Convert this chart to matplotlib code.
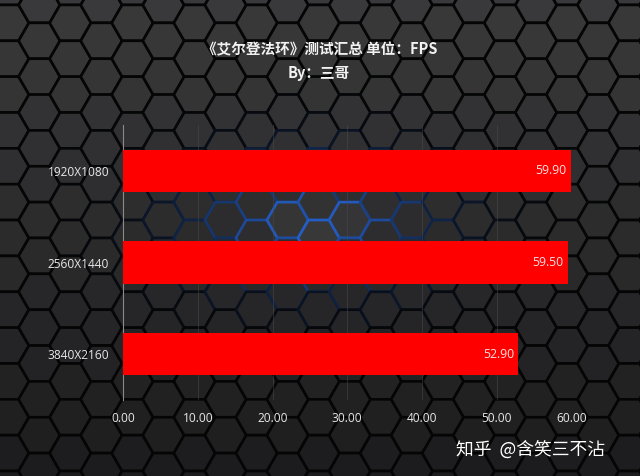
import numpy as np
import matplotlib
matplotlib.use("Agg")
import matplotlib.pyplot as plt
from matplotlib.collections import PolyCollection

categories = ["1920X1080", "2560X1440", "3840X2160"]
fps_values = [59.90, 59.50, 52.90]
x_ticks = [0, 10, 20, 30, 40, 50, 60]
x_tick_labels = ["0.00", "10.00", "20.00", "30.00", "40.00", "50.00", "60.00"]
title_text = "《艾尔登法环》测试汇总 单位：FPS"
subtitle_text = "By：三哥"
watermark_text = "知乎  @含笑三不沾"

W, H = 640, 476
fig = plt.figure(figsize=(6.4, 4.76), dpi=100)
fig.patch.set_facecolor("#2a2a2c")

# ---- decorative hexagon background ----
bg = fig.add_axes([0, 0, 1, 1])
bg.set_xlim(0, W)
bg.set_ylim(H, 0)
bg.axis("off")
R = 20.7
hs = 1.5 * R
vs = np.sqrt(3) * R
x0, y0 = 39.3, 40.8
angles = np.deg2rad(np.arange(0, 360, 60))
polys, faces, edges = [], [], []
blue = np.array([0.16, 0.42, 0.88])
for i in range(-2, 24):
    cx = x0 + i * hs
    for j in range(-2, 16):
        cy = y0 + j * vs - (vs / 2 if i % 2 else 0)
        pts = np.column_stack([cx + R * np.cos(angles), cy + R * np.sin(angles)])
        polys.append(pts)
        t = np.clip(cy / H, 0, 1)
        g = 0.225 - 0.115 * t
        d = np.hypot((cx - 320) / 120.0, (cy - 228) / 60.0)
        glow = 0.9 * np.exp(-d ** 2)
        face = np.array([g, g, g + 0.006]) + 0.06 * np.exp(-d ** 2 * 6)
        faces.append(np.clip(face, 0, 1))
        e = np.array([0.02, 0.02, 0.02]) * (1 - glow) + blue * glow
        edges.append(np.clip(e, 0, 1))
pc = PolyCollection(polys, facecolors=faces, edgecolors=edges, linewidths=1.9)
bg.add_collection(pc)

# ---- chart ----
ax = fig.add_axes([123 / W, 1 - 400 / H, 448.5 / W, 275 / H])
ax.set_facecolor("none")
y = np.arange(len(categories))
ax.barh(y, fps_values, height=0.46, color="#ff0000", zorder=3)
ax.set_xlim(0, 60)
ax.set_ylim(len(categories) - 0.5, -0.5)
ax.set_yticks(y)
ax.set_yticklabels(categories)
ax.set_xticks(x_ticks)
ax.set_xticklabels(x_tick_labels)
latin = ["Open Sans", "Noto Sans CJK SC", "DejaVu Sans"]
for lab in ax.get_yticklabels() + ax.get_xticklabels():
    lab.set_family(latin)
    lab.set_fontsize(8.6)
    lab.set_color("#e8e8e8")
ax.tick_params(axis="both", length=0)
ax.tick_params(axis="y", pad=10)
ax.tick_params(axis="x", pad=9)
for s in ["top", "right", "bottom"]:
    ax.spines[s].set_visible(False)
ax.spines["left"].set_color("#8a8a8a")
ax.spines["left"].set_linewidth(0.8)
ax.grid(axis="x", color="#4a4a4a", linewidth=0.6, alpha=0.6, zorder=1)
ax.set_axisbelow(True)
for yi, v in zip(y, fps_values):
    ax.text(v - 0.6, yi, f"{v:.2f}", ha="right", va="center", fontsize=8.8,
            color="#f7e4e4", family=latin, zorder=4)

cjk = ["Noto Sans CJK SC", "DejaVu Sans"]
fig.text(320 / W, 1 - 49 / H, title_text, ha="center", va="center",
         fontsize=10.5, fontweight="bold", color="#f2f2f2", family=cjk)
fig.text(319 / W, 1 - 73 / H, subtitle_text, ha="center", va="center",
         fontsize=10.5, fontweight="bold", color="#f2f2f2", family=cjk)
fig.text(605 / W, 1 - 450 / H, watermark_text, ha="right", va="center",
         fontsize=12.8, color="#ffffff", family=cjk)

fig.savefig("out.png", dpi=100, facecolor=fig.get_facecolor())
